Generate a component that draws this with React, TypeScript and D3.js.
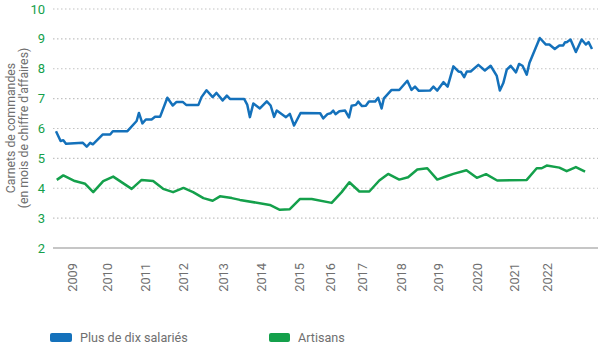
import React from "react";
import * as d3 from "d3";

// Decimal-year positions and values (mois de chiffre d'affaires)
const blueT = [2008.60,2008.72,2008.79,2008.86,2009.30,2009.40,2009.49,2009.56,2009.82,2010.01,2010.08,2010.46,2010.70,2010.76,2010.85,2010.94,2011.09,2011.18,2011.31,2011.50,2011.64,2011.74,2011.90,2011.99,2012.31,2012.39,2012.52,2012.68,2012.78,2012.94,2013.05,2013.13,2013.50,2013.58,2013.65,2013.74,2013.91,2014.09,2014.19,2014.28,2014.35,2014.59,2014.69,2014.80,2014.97,2015.48,2015.56,2015.67,2015.75,2015.82,2015.88,2015.98,2016.13,2016.23,2016.30,2016.41,2016.47,2016.57,2016.67,2016.75,2016.91,2016.99,2017.08,2017.14,2017.34,2017.54,2017.75,2017.86,2017.95,2018.05,2018.34,2018.43,2018.53,2018.69,2018.80,2018.95,2019.08,2019.15,2019.23,2019.30,2019.40,2019.60,2019.77,2019.92,2020.08,2020.16,2020.25,2020.34,2020.44,2020.58,2020.66,2020.75,2020.86,2020.93,2021.20,2021.36,2021.45,2021.59,2021.71,2021.81,2021.86,2021.90,2022.00,2022.14,2022.29,2022.40,2022.47,2022.56];
const blueV = [5.91,5.58,5.61,5.49,5.52,5.39,5.52,5.47,5.80,5.80,5.91,5.91,6.25,6.52,6.17,6.30,6.30,6.39,6.39,7.03,6.77,6.89,6.89,6.79,6.79,7.05,7.28,7.05,7.19,6.94,7.10,6.99,6.99,6.80,6.38,6.84,6.67,6.91,6.77,6.39,6.60,6.38,6.49,6.10,6.52,6.51,6.34,6.48,6.51,6.60,6.48,6.58,6.60,6.37,6.76,6.79,6.90,6.75,6.76,6.90,6.90,7.03,6.67,7.01,7.29,7.29,7.60,7.29,7.40,7.26,7.27,7.40,7.27,7.55,7.40,8.08,7.91,7.89,7.72,7.91,7.91,8.13,7.94,8.10,7.76,7.27,7.52,7.97,8.10,7.88,8.16,8.10,7.80,8.19,9.03,8.81,8.81,8.66,8.78,8.78,8.89,8.89,8.98,8.56,8.98,8.81,8.89,8.66];

const greenT = [2008.62,2008.79,2009.09,2009.36,2009.57,2009.83,2010.09,2010.57,2010.83,2011.13,2011.39,2011.65,2011.92,2012.17,2012.44,2012.68,2012.87,2013.18,2013.39,2014.17,2014.43,2014.69,2014.95,2015.26,2015.78,2016.04,2016.24,2016.50,2016.76,2017.02,2017.25,2017.54,2017.77,2018.01,2018.27,2018.53,2018.77,2018.95,2019.29,2019.56,2019.80,2020.09,2020.86,2021.12,2021.25,2021.38,2021.71,2021.90,2022.14,2022.38];
const greenV = [4.28,4.43,4.24,4.15,3.87,4.24,4.39,3.98,4.28,4.24,3.98,3.87,4.01,3.87,3.67,3.58,3.73,3.67,3.61,3.44,3.28,3.30,3.64,3.64,3.51,3.87,4.20,3.89,3.89,4.26,4.48,4.29,4.37,4.63,4.67,4.29,4.40,4.48,4.60,4.35,4.47,4.26,4.28,4.67,4.67,4.76,4.69,4.57,4.71,4.56];

const yTicks = [2, 3, 4, 5, 6, 7, 8, 9, 10];
const xTickLabels = ["2009","2010","2011","2012","2013","2014","2015","2016","2017","2018","2019","2020","2021","2022"];
const xTickPos = [2009.02,2009.93,2010.92,2011.93,2012.95,2013.96,2014.95,2015.74,2016.59,2017.61,2018.57,2019.59,2020.55,2021.41];

const seriesNames = ["Plus de dix salariés", "Artisans"];
const titleLines = ["Carnets de commandes", "(en mois de chiffre d'affaires)"];

const BLUE = "#1471bb";
const GREEN = "#14a04b";
const GRAY = "#6f6f6f";
const FONT = "'Roboto', sans-serif";

export default function App() {
  const W = 600, H = 347;
  const x = d3.scaleLinear().domain([2008.6, 2022.56]).range([56, 592]);
  const y = d3.scaleLinear().domain([2, 10]).range([248, 9]);
  const line = d3.line<[number, number]>().x(d => x(d[0])).y(d => y(d[1]));
  const blue: [number, number][] = blueT.map((t, i) => [t, blueV[i]]);
  const green: [number, number][] = greenT.map((t, i) => [t, greenV[i]]);
  const gridX0 = 53, gridX1 = 598;

  return (
    <svg width={W} height={H} style={{ position: "absolute", left: 0, top: 0, background: "#fff" }} fontFamily={FONT}>
      {yTicks.map(v => (
        <g key={v}>
          {v === 2 ? (
            <line x1={gridX0} x2={gridX1} y1={y(v)} y2={y(v)} stroke="#c6c6c6" strokeWidth={2} />
          ) : (
            <line x1={gridX0} x2={gridX1} y1={y(v)} y2={y(v)} stroke="#c2c2c2" strokeWidth={1.2} strokeDasharray="1.5 2.5" />
          )}
          <text x={45} y={y(v)} dy="0.35em" textAnchor="end" fill={GREEN} fontSize={13}>{v}</text>
        </g>
      ))}
      <g transform="translate(11,128) rotate(-90)">
        <text textAnchor="middle" fill={GRAY} fontSize={12.3} dy="0.35em">{titleLines[0]}</text>
        <text textAnchor="middle" fill={GRAY} fontSize={12.3} dy="0.35em" y={12.5}>{titleLines[1]}</text>
      </g>
      {xTickLabels.map((lab, i) => (
        <text key={lab} transform={`translate(${x(xTickPos[i])},263) rotate(-90)`} textAnchor="end" dy="0.35em" fill={GRAY} fontSize={12.8}>{lab}</text>
      ))}
      <path d={line(green) || ""} fill="none" stroke={GREEN} strokeWidth={2.5} strokeLinejoin="round" />
      <path d={line(blue) || ""} fill="none" stroke={BLUE} strokeWidth={2.5} strokeLinejoin="round" />
      <g>
        <rect x={50} y={333} width={22} height={9} rx={2} fill={BLUE} />
        <text x={80} y={337.5} dy="0.35em" fill={GRAY} fontSize={12.6}>{seriesNames[0]}</text>
        <rect x={269} y={333} width={21} height={9} rx={2} fill={GREEN} />
        <text x={298} y={337.5} dy="0.35em" fill={GRAY} fontSize={12.6}>{seriesNames[1]}</text>
      </g>
    </svg>
  );
}
